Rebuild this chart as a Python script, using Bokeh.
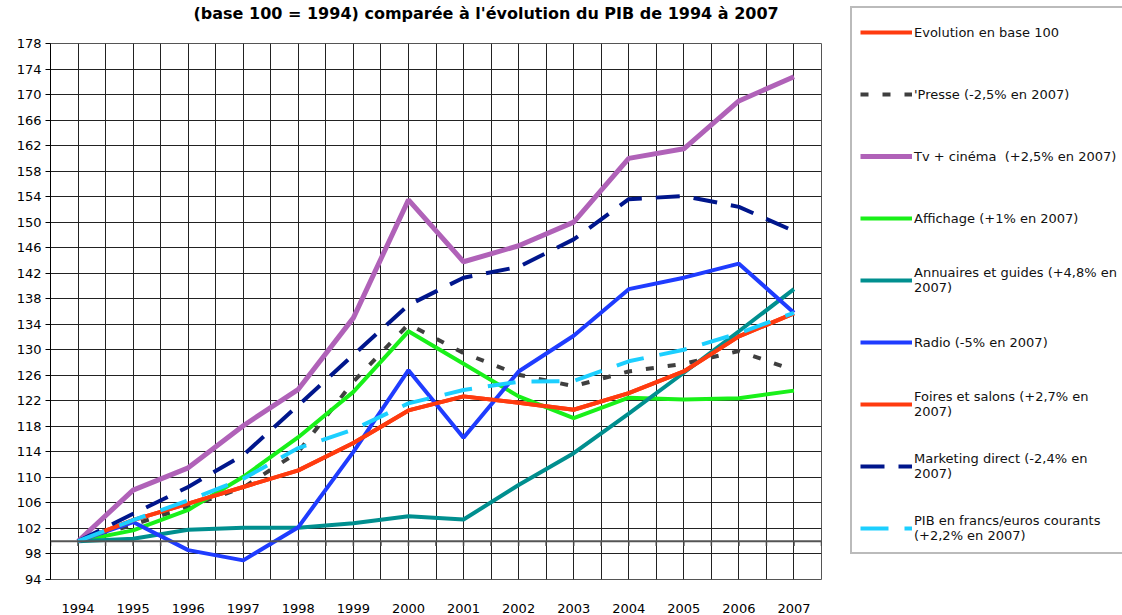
import numpy as np
from bokeh.plotting import figure
from bokeh.models import FixedTicker, Legend, LegendItem, Span, LinearAxis, Range1d
from bokeh.embed import file_html
from bokeh.resources import INLINE

years = list(range(1994, 2008))
y_ticks = list(range(94, 179, 4))

presse = [100, 102.6, 105.4, 108.4, 114.0, 125.0, 134.0, 129.5, 126.1, 124.3, 126.6, 127.8, 129.8, 126.8]
tv_cinema = [100, 108.0, 111.5, 118.1, 123.8, 135.0, 153.5, 143.8, 146.3, 150.0, 160.0, 161.5, 169.0, 172.8]
affichage = [100, 101.7, 104.9, 110.1, 116.3, 123.4, 132.9, 127.8, 122.7, 119.3, 122.5, 122.2, 122.4, 123.6]
annuaires = [100, 100.4, 101.8, 102.1, 102.1, 102.8, 103.9, 103.4, 108.8, 113.8, 120.0, 126.4, 132.9, 139.5]
radio = [100, 103.0, 98.6, 97.0, 102.2, 114.0, 126.8, 116.2, 126.6, 132.2, 139.5, 141.3, 143.5, 135.8]
foires = [100, 103.3, 105.9, 108.5, 111.1, 115.4, 120.5, 122.7, 121.7, 120.6, 123.2, 126.6, 132.1, 135.7]
marketing = [100, 104.3, 108.5, 113.5, 121.3, 129.2, 137.0, 141.3, 143.0, 147.3, 153.6, 154.1, 152.4, 148.6]
pib = [100, 103.3, 106.4, 109.8, 114.6, 117.5, 121.6, 123.7, 125.0, 125.1, 128.2, 130.0, 132.6, 135.8]
evolution = foires

title_text = "(base 100 = 1994) comparée à l'évolution du PIB de 1994 à 2007"
labels = [
    "Evolution en base 100",
    "'Presse (-2,5% en 2007)",
    "Tv + cinéma  (+2,5% en 2007)",
    "Affichage (+1% en 2007)",
    "Annuaires et guides (+4,8% en\n2007)",
    "Radio (-5% en 2007)",
    "Foires et salons (+2,7% en\n2007)",
    "Marketing direct (-2,4% en\n2007)",
    "PIB en francs/euros courants\n(+2,2% en 2007)",
]

FONT = "DejaVu Sans"

p = figure(frame_width=771, frame_height=536, x_range=(1993.5, 2007.5), y_range=(94, 178),
           output_backend="svg", toolbar_location=None,
           min_border_left=50, min_border_top=43, min_border_bottom=36, min_border_right=301)

xax = p.below[0]
xax.ticker = FixedTicker(ticks=years)
xax.axis_line_color = None
xax.major_tick_line_color = None
xax.minor_tick_line_color = None
xax.major_label_standoff = 18
xax.major_label_text_font = FONT
xax.major_label_text_font_size = "13px"
xax.major_label_text_color = "black"

# title drawn as a label row above the frame (keeps it near the top edge)
p.extra_x_ranges = {"title": Range1d(0, 1)}
title_pos = 0.565
title_axis = LinearAxis(x_range_name="title", ticker=FixedTicker(ticks=[title_pos]),
                        major_label_overrides={title_pos: title_text})
title_axis.axis_line_color = None
title_axis.major_tick_line_color = None
title_axis.minor_tick_line_color = None
title_axis.major_tick_out = 0
title_axis.major_tick_in = 0
title_axis.major_label_standoff = 21
title_axis.major_label_text_font = FONT
title_axis.major_label_text_font_size = "16px"
title_axis.major_label_text_font_style = "bold"
title_axis.major_label_text_color = "black"
p.add_layout(title_axis, "above")

p.outline_line_color = "#555555"
p.outline_line_width = 1

half_years = list(np.arange(1993.5, 2008.0, 0.5))
p.xgrid.ticker = FixedTicker(ticks=half_years)
p.xgrid.grid_line_color = "#222222"
p.xgrid.grid_line_width = 1
p.ygrid.ticker = FixedTicker(ticks=y_ticks)
p.ygrid.grid_line_color = "#222222"
p.ygrid.grid_line_width = 1

p.yaxis.ticker = FixedTicker(ticks=y_ticks)
p.yaxis.axis_line_color = "black"
p.yaxis.major_tick_in = 0
p.yaxis.major_tick_out = 5
p.yaxis.major_tick_line_color = "black"
p.yaxis.minor_tick_line_color = None
p.yaxis.major_label_standoff = 4
p.yaxis.major_label_text_font = FONT
p.yaxis.major_label_text_font_size = "13px"
p.yaxis.major_label_text_color = "black"

# base-100 axis line with small ticks
p.add_layout(Span(location=100, dimension="width", line_color="#555555", line_width=2))
p.segment(x0=half_years, y0=[100] * len(half_years), x1=half_years, y1=[99.25] * len(half_years),
          line_color="#444444", line_width=1.5)

r_evol = p.line(years, evolution, line_color="#ff3b0f", line_width=4)
r_presse = p.line(years, presse, line_color="#3f3f3f", line_width=4, line_dash="8 14")
r_tv = p.line(years, tv_cinema, line_color="#b062b8", line_width=5)
r_aff = p.line(years, affichage, line_color="#19f019", line_width=4)
r_ann = p.line(years, annuaires, line_color="#008f8f", line_width=4)
r_radio = p.line(years, radio, line_color="#1f3cff", line_width=4)
r_foires = p.line(years, foires, line_color="#ff3b0f", line_width=4)
r_mkt = p.line(years, marketing, line_color="#00168c", line_width=4, line_dash="24 14")
r_pib = p.line(years, pib, line_color="#1ccfff", line_width=4, line_dash="28 16")

renderers = [r_evol, r_presse, r_tv, r_aff, r_ann, r_radio, r_foires, r_mkt, r_pib]
items = [LegendItem(label=l, renderers=[r]) for l, r in zip(labels, renderers)]
legend = Legend(items=items, location=(29, 25))
legend.border_line_color = "#777777"
legend.border_line_width = 2
legend.background_fill_color = "white"
legend.glyph_width = 52
legend.glyph_height = 32
legend.label_height = 32
legend.label_standoff = 2
legend.label_text_font = FONT
legend.label_text_font_size = "13px"
legend.label_text_color = "#111111"
legend.spacing = 30
legend.padding = 8
legend.margin = 0
p.add_layout(legend, "right")

open("out.html", "w").write(file_html(p, INLINE))
